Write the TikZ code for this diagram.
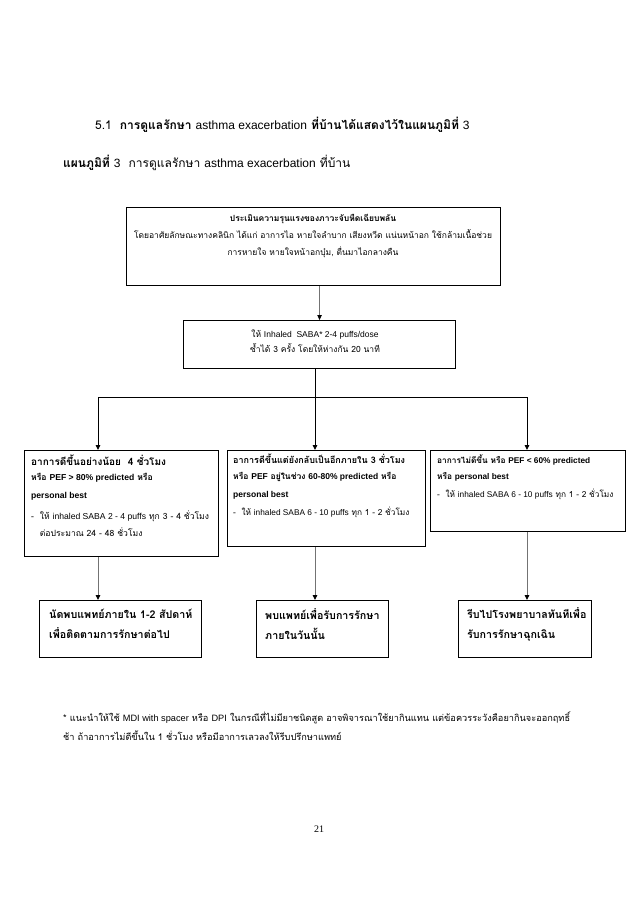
\documentclass[tikz,border=0pt]{standalone}
\usepackage{fontspec}
\setmainfont[Script=Thai]{Loma}
\newfontfamily\latf{Liberation Sans}
\newfontfamily\serf{Liberation Serif}
\newcommand{\E}[1]{{\latf #1}}
\usetikzlibrary{arrows.meta}
\begin{document}
\begin{tikzpicture}[x=1pt,y=-1pt,
  box/.style={draw, line width=1.1pt, inner sep=0pt, anchor=north west},
  txt/.style={inner sep=0pt, anchor=west, align=left},
  ctxt/.style={inner sep=0pt, align=center},
  ar/.style={-{Triangle[length=5pt,width=4.5pt,color=black]}, line width=0.9pt},
  gar/.style={ar, draw=black!55},
  ln/.style={line width=0.9pt}]
\useasboundingbox (0,0) rectangle (638,903);
% headings
\node[txt, font=\fontsize{12}{14}\selectfont] (h1) at (95,125) {5.1\ \ \textbf{การดูแลรักษา} \E{asthma exacerbation} \textbf{ที่บ้านได้แสดงไว้ในแผนภูมิที่} \E{3}};
\node[txt, font=\fontsize{12}{14}\selectfont] (h2) at (63,163) {\textbf{แผนภูมิที่} \E{3}\ \ การดูแลรักษา \E{asthma exacerbation} ที่บ้าน};
% box 1
\node[box, minimum width=374pt, minimum height=78pt] (b1) at (126,207) {};
\node[ctxt, font=\fontsize{8.5}{17}\selectfont] (t1) at (313,236) {\textbf{ประเมินความรุนแรงของภาวะจับหืดเฉียบพลัน}\\
โดยอาศัยลักษณะทางคลินิก ได้แก่ อาการไอ หายใจลำบาก เสียงหวีด แน่นหน้าอก ใช้กล้ามเนื้อช่วย\\
การหายใจ หายใจหน้าอกบุ๋ม, ตื่นมาไอกลางคืน};
% box 2
\node[box, minimum width=272pt, minimum height=48pt] (b2) at (183,320) {};
\node[ctxt, font=\fontsize{8.5}{15}\selectfont] (t2) at (315,341) {ให้ \E{Inhaled\ \ SABA* 2-4 puffs/dose}\\ซ้ำได้ 3 ครั้ง โดยให้ห่างกัน 20 นาที};
\draw[gar] (b1.south -| b2.north) -- (b2.north);
% branch
\coordinate (J) at (315,397);
\coordinate (L) at (98,397);
\coordinate (R) at (527,397);
\draw[ln] (b2.south -| J) -- (J);
\draw[ln] (L) -- (R);
% level 3 boxes
\node[box, minimum width=194pt, minimum height=106pt] (c1) at (24,450) {};
\node[box, minimum width=198pt, minimum height=96pt] (c2) at (227,450) {};
\node[box, minimum width=195pt, minimum height=81pt] (c3) at (430,450) {};
\draw[ar] (L) -- (L |- c1.north);
\draw[ar] (J) -- (J |- c2.north);
\draw[ar] (R) -- (R |- c3.north);
% texts
\node[txt, font=\fontsize{10}{12}\selectfont] (c1a) at (31,460) {\textbf{อาการดีขึ้นอย่างน้อย \ 4 ชั่วโมง}};
\node[txt, font=\fontsize{8.6}{12}\selectfont\bfseries] (c1b) at (31,478) {หรือ \E{PEF > 80\% predicted} หรือ};
\node[txt, font=\fontsize{8.6}{12}\selectfont\bfseries] (c1c) at (31,496) {\E{personal best}};
\node[txt, font=\fontsize{8.6}{17}\selectfont] (c1d) at (31,524) {-\ \ ให้ \E{inhaled SABA 2 - 4 puffs} ทุก 3 - 4 ชั่วโมง\\
\ \ \ ต่อประมาณ 24 - 48 ชั่วโมง};
\node[txt, font=\fontsize{9}{12}\selectfont\bfseries] (c2a) at (233,459) {อาการดีขึ้นแต่ยังกลับเป็นอีกภายใน 3 ชั่วโมง};
\node[txt, font=\fontsize{8.5}{12}\selectfont\bfseries] (c2b) at (233,477) {หรือ \E{PEF} อยู่ในช่วง \E{60-80\% predicted} หรือ};
\node[txt, font=\fontsize{8.5}{12}\selectfont\bfseries] (c2c) at (233,495) {\E{personal best}};
\node[txt, font=\fontsize{8.3}{12}\selectfont] (c2d) at (233,512) {-\ \ ให้ \E{inhaled SABA 6 - 10 puffs} ทุก 1 - 2 ชั่วโมง};
\node[txt, font=\fontsize{8.3}{12}\selectfont\bfseries] (c3a) at (437,460) {อาการไม่ดีขึ้น หรือ \E{PEF < 60\% predicted}};
\node[txt, font=\fontsize{8.3}{12}\selectfont\bfseries] (c3b) at (437,477) {หรือ \E{personal best}};
\node[txt, font=\fontsize{8.3}{12}\selectfont] (c3c) at (437,494) {-\ \ ให้ \E{inhaled SABA 6 - 10 puffs} ทุก 1 - 2 ชั่วโมง};
% bottom boxes
\node[box, minimum width=162pt, minimum height=57pt] (d1) at (39,600) {};
\node[box, minimum width=132pt, minimum height=57pt] (d2) at (256,600) {};
\node[box, minimum width=133pt, minimum height=57pt] (d3) at (458,600) {};
\draw[gar] (c1.south -| L) -- (d1.north -| L);
\draw[gar] (c2.south -| J) -- (d2.north -| J);
\draw[gar] (c3.south -| R) -- (d3.north -| R);
\node[txt, font=\fontsize{10.7}{20}\selectfont\bfseries] (d1t) at (49,624) {นัดพบแพทย์ภายใน 1-2 สัปดาห์\\เพื่อติดตามการรักษาต่อไป};
\node[txt, font=\fontsize{10.7}{20}\selectfont\bfseries] (d2t) at (265,624) {พบแพทย์เพื่อรับการรักษา\\ภายในวันนั้น};
\node[txt, font=\fontsize{10.7}{20}\selectfont\bfseries] (d3t) at (467,624) {รีบไปโรงพยาบาลทันทีเพื่อ\\รับการรักษาฉุกเฉิน};
% footnote
\node[txt, font=\fontsize{9.2}{19}\selectfont] (fn) at (63,726) {* แนะนำให้ใช้ \E{MDI with spacer} หรือ \E{DPI} ในกรณีที่ไม่มียาชนิดสูด อาจพิจารณาใช้ยากินแทน แต่ข้อควรระวังคือยากินจะออกฤทธิ์\\
ช้า ถ้าอาการไม่ดีขึ้นใน 1 ชั่วโมง หรือมีอาการเลวลงให้รีบปรึกษาแพทย์};
% page number
\node[ctxt, font=\serf\fontsize{10}{12}\selectfont] (pg) at (319,829) {21};
\end{tikzpicture}
\end{document}
